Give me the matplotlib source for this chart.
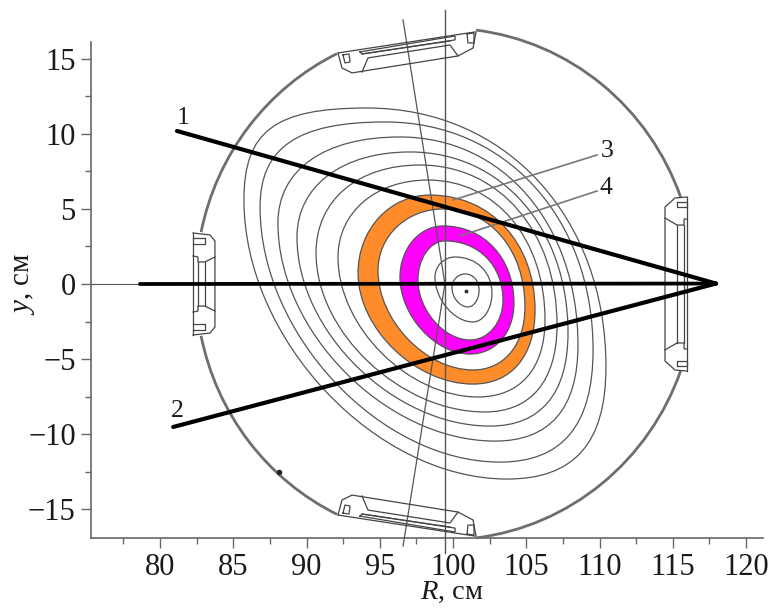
import matplotlib
matplotlib.use('Agg')
import matplotlib.pyplot as plt
from matplotlib.patches import Arc, PathPatch
from matplotlib.path import Path
from matplotlib.ticker import MultipleLocator

plt.rcParams['font.family'] = ['Liberation Serif', 'DejaVu Sans']
plt.rcParams['mathtext.fontset'] = 'custom'
plt.rcParams['mathtext.it'] = 'Liberation Serif:italic'
plt.rcParams['mathtext.rm'] = 'Liberation Serif'

# flux surfaces, outer to inner: leftmost, top, rightmost, bottom points (R, y)
left_R = [85.73, 86.83, 88.05, 89.35, 90.65, 92.15, 93.52, 94.88, 96.38, 97.61, 98.77, 99.93]
left_y = [5.6, 5.13, 4.07, 3.13, 2.07, 1.8, 0.73, 0.9, 0.47, 0.27, 0.47, -0.27]
top_R = [94.13, 95.36, 96.38, 97.06, 97.75, 98.29, 98.43, 99.32, 99.32, 99.45, 100.14, 100.82]
top_y = [11.73, 10.8, 9.8, 8.8, 7.93, 6.93, 5.93, 5.0, 3.87, 2.87, 1.8, 0.67]
right_R = [110.44, 109.56, 108.53, 107.85, 107.1, 106.28, 105.6, 104.91, 104.16, 103.41, 102.66, 101.78]
right_y = [-5.53, -4.4, -4.07, -3.27, -2.73, -2.4, -1.73, -1.53, -1.27, -1.07, -0.6, -0.4]
bottom_R = [103.69, 103.21, 102.87, 102.53, 102.18, 101.71, 101.37, 101.37, 101.16, 101.16, 101.37, 101.02]
bottom_y = [-13.0, -11.87, -10.47, -9.47, -8.53, -7.53, -6.67, -5.73, -4.67, -3.73, -2.53, -1.53]
corner_tl = [0.75, 0.7, 0.62, 0.6, 0.6, 0.58, 0.56, 0.56, 0.55, 0.55, 0.55, 0.55]
corner_br = [0.68, 0.67, 0.66, 0.65, 0.64, 0.63, 0.62, 0.6, 0.58, 0.56, 0.55, 0.55]
fills = ['none', 'none', 'none', 'none', 'none', 'none', '#ff8c2a', 'white', '#ff00ff', 'white', 'none', 'none']

# straight chords
chord1_R = [81.16, 117.95]
chord1_y = [10.2, 0.03]
chord2_R = [80.9, 117.95]
chord2_y = [-9.53, 0.03]
mid_R = [78.63, 117.95]
mid_y = [0.0, 0.03]
vert_R = [99.45, 99.45]
vert_y = [18.27, -17.93]
slant_R = [96.59, 99.45, 96.59]
slant_y = [17.6, 0.0, -17.47]
lead3_R = [100.0, 109.83]
lead3_y = [5.6, 8.6]
lead4_R = [100.48, 109.83]
lead4_y = [3.2, 6.2]

# wall arcs (degrees)
wall_R0 = 99.5
wall_r = 17.05
wall_from = [19.8, 115.8, 191.7, 277.0]
wall_to = [83.0, 168.3, 244.2, 340.2]

# ports, upper half (mirrored in y)
right_port = [
    ([115.97, 115.15, 114.47, 114.47], [5.8, 5.73, 5.13, 0.0]),
    ([115.97, 115.97], [5.8, 0.0]),
    ([115.29, 115.97, 115.97, 115.29, 115.29], [5.47, 5.47, 5.13, 5.13, 5.47]),
    ([114.47, 115.29, 115.77, 115.77, 115.97], [4.4, 3.93, 3.93, 4.33, 4.33]),
    ([115.29, 115.29], [3.93, 0.0]),
    ([115.77, 115.77], [3.93, 0.0]),
]
left_port = [
    ([82.25, 83.41, 83.75, 83.75], [3.4, 3.27, 2.87, 0.0]),
    ([82.25, 82.25], [3.4, 0.0]),
    ([82.25, 83.07, 83.07, 82.25], [3.07, 3.07, 2.67, 2.67]),
    ([82.25, 82.59, 82.59, 83.07, 83.75], [1.87, 1.8, 1.47, 1.47, 1.8]),
    ([82.59, 82.59], [1.47, 0.0]),
    ([83.07, 83.07], [1.47, 0.0]),
]
top_port = [
    ([92.15, 101.5], [15.4, 16.8]),
    ([92.15, 92.42, 93.11, 100.34, 101.37, 101.57], [15.4, 14.4, 14.07, 15.2, 15.73, 16.8]),
    ([92.49, 92.9, 92.97, 92.63, 92.49], [15.27, 15.33, 14.8, 14.73, 15.27]),
    ([100.96, 101.43, 101.43, 101.02, 100.96], [16.67, 16.73, 16.07, 16.07, 16.67]),
    ([93.65, 100.14, 100.14, 93.79, 93.65], [15.47, 16.53, 16.27, 15.33, 15.47]),
    ([93.79, 94.2, 99.8, 100.34], [14.13, 15.07, 15.93, 15.2]),
    ([93.79, 99.8], [15.33, 16.2]),
]

labels = ['1', '2', '3', '4']
label_R = [81.57, 81.16, 110.5, 110.44]
label_y = [11.07, -8.47, 8.87, 6.4]

dark = '#555555'


def surface_path(i):
    kt = corner_tl[i]
    kb = corner_br[i]
    lx, ly = left_R[i], left_y[i]
    tx, ty = top_R[i], top_y[i]
    rx, ry = right_R[i], right_y[i]
    bx, by = bottom_R[i], bottom_y[i]
    verts = [(lx, ly),
             (lx, ly + kt*(ty-ly)), (tx - kt*(tx-lx), ty), (tx, ty),
             (tx + 0.58*(rx-tx), ty), (rx, ry + 0.58*(ty-ry)), (rx, ry),
             (rx, ry - kb*(ry-by)), (bx + kb*(rx-bx), by), (bx, by),
             (bx - 0.5*(bx-lx), by), (lx, ly - 0.5*(ly-by)), (lx, ly)]
    codes = [Path.MOVETO] + [Path.CURVE4]*12
    return Path(verts, codes)


fig = plt.figure(figsize=(7.69, 6.09), dpi=100)
ax = fig.add_axes([91/769, 71.3/609, 672/769, 495.7/609])
ax.set_xlim(75.29, 121.16)
ax.set_ylim(-16.91, 16.13)

for s in ['top', 'right']:
    ax.spines[s].set_visible(False)
for s in ['left', 'bottom']:
    ax.spines[s].set_color('#666666')
    ax.spines[s].set_linewidth(1.2)

ax.xaxis.set_major_locator(MultipleLocator(5))
ax.xaxis.set_minor_locator(MultipleLocator(2.5))
ax.yaxis.set_major_locator(MultipleLocator(5))
ax.yaxis.set_minor_locator(MultipleLocator(2.5))
ax.tick_params(which='major', length=7.5, width=1.0, color='#666666',
               labelsize=22, labelcolor='#1a1a1a', pad=3.5)
ax.tick_params(which='minor', length=4.5, width=1.0, color='#666666')

for i in range(len(left_R)):
    ax.add_patch(PathPatch(surface_path(i), facecolor=fills[i], edgecolor=dark,
                           linewidth=0.9, zorder=2 + i*0.01))
ax.plot([right_R[-1] - 0.9], [-0.47], 'o', color='#333333', ms=1.8, zorder=3)

# thin line along y=0, from the tick to the chord
ax.plot([75.29, 78.63], [0, 0], color=dark, lw=0.8, zorder=3)
ax.plot(vert_R, vert_y, color=dark, lw=1.0, clip_on=False, zorder=3)
ax.plot(slant_R, slant_y, color=dark, lw=0.9, clip_on=False, zorder=3)
ax.plot(lead3_R, lead3_y, color='#777777', lw=1.2, zorder=3)
ax.plot(lead4_R, lead4_y, color='#777777', lw=1.2, zorder=3)

for a, b in zip(wall_from, wall_to):
    ax.add_patch(Arc((wall_R0, 0), 2*wall_r, 2*wall_r, theta1=a, theta2=b,
                     color='#6e6e6e', lw=2.0, zorder=3, clip_on=False))
ax.plot([88.12], [-12.53], 'o', color='#222222', ms=3, zorder=4)

for xs, ys in right_port + left_port + top_port:
    ax.plot(xs, ys, color='#444444', lw=0.9, clip_on=False, zorder=4)
    ax.plot(xs, [-v for v in ys], color='#444444', lw=0.9, clip_on=False, zorder=4)

ax.plot(chord1_R, chord1_y, color='black', lw=3.0, solid_capstyle='round', zorder=5)
ax.plot(chord2_R, chord2_y, color='black', lw=3.0, solid_capstyle='round', zorder=5)
ax.plot(mid_R, mid_y, color='black', lw=2.7, solid_capstyle='round', zorder=5)

for t, x, y in zip(labels, label_R, label_y):
    ax.text(x, y, t, fontsize=18.5, color='#1a1a1a', ha='center', va='center', zorder=6)

fig.text(452/769, 1 - 592/609, r'$\mathit{R}$, см', fontsize=20.5, color='#1a1a1a',
         ha='center', va='center')
fig.text(24/769, 1 - 284/609, r'$\mathit{y}$, см', fontsize=21, color='#1a1a1a',
         ha='center', va='center', rotation=90)

plt.savefig('out.png', dpi=100)
